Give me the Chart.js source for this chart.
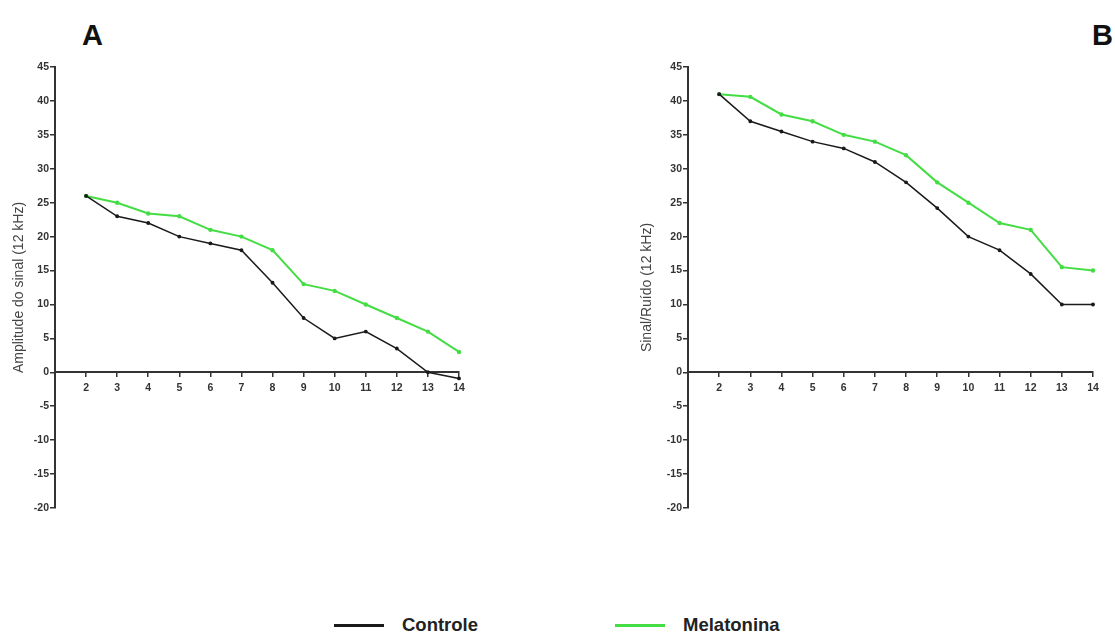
<!DOCTYPE html>
<html>
<head>
<meta charset="utf-8">
<script src="https://cdn.jsdelivr.net/npm/chart.js@4"></script>
<style>
  body { margin: 0; background: #fff; font-family: "Liberation Sans", Arial, sans-serif; }
  #page { position: relative; width: 1115px; height: 633px; overflow: hidden; }
  .panel { position: absolute; top: 0; }
  .letter { position: absolute; top: 21px; font-size: 29px; font-weight: bold; line-height: 29px; color: #111; }
  .leg { position: absolute; top: 611px; height: 28px; display: flex; align-items: center; }
  .leg .ln { width: 50px; height: 3px; margin-right: 18px; }
  .leg span { font-size: 18.5px; font-weight: bold; color: #222; }
</style>
</head>
<body>
<div id="page">
  <div class="letter" style="left:82px">A</div>
  <div class="letter" style="left:1092px">B</div>
  <canvas id="chartA" class="panel" style="left:0px" width="480" height="540"></canvas>
  <canvas id="chartB" class="panel" style="left:633px" width="481" height="540"></canvas>
  <div class="leg" style="left:334px"><div class="ln" style="background:#1a1a1a"></div><span>Controle</span></div>
  <div class="leg" style="left:615px"><div class="ln" style="background:#44dd44"></div><span>Melatonina</span></div>
</div>
<script>
let days = [2, 3, 4, 5, 6, 7, 8, 9, 10, 11, 12, 13, 14];

// A - Amplitude do sinal (12 kHz)
let ampControle = [26, 23, 22, 20, 19, 18, 13.2, 8, 5, 6, 3.5, 0, -0.9];
let ampMelatonina = [26, 25, 23.4, 23, 21, 20, 18, 13, 12, 10, 8, 6, 3];

// B - Sinal/Ruido (12 kHz)
let srControle = [41, 37, 35.5, 34, 33, 31, 28, 24.2, 20, 18, 14.5, 10, 10];
let srMelatonina = [41, 40.6, 38, 37, 35, 34, 32, 28, 25, 22, 21, 15.5, 15];

let xRange = [1, 14];
let yRange = [-20, 45];

let tickFont = { family: 'Liberation Sans', size: 10.5, weight: 'bold' };

function toPoints(values) {
    return days.map((d, i) => ({ x: d, y: values[i] }));
}

function makeChart(id, title, controle, melatonina, titlePad) {
    let ctx = document.getElementById(id).getContext('2d');
    return new Chart(ctx, {
        type: 'line',
        data: {
            datasets: [{
                label: 'Controle',
                data: toPoints(controle),
                borderColor: '#1a1a1a',
                backgroundColor: '#1a1a1a',
                borderWidth: 1.5,
                pointRadius: 1.2,
                clip: false
            }, {
                label: 'Melatonina',
                data: toPoints(melatonina),
                borderColor: '#44dd44',
                backgroundColor: '#33bb33',
                borderWidth: 2,
                pointRadius: 1.2,
                clip: false
            }]
        },
        options: {
            responsive: false,
            animation: false,
            layout: { padding: { top: 67, bottom: 32, left: 0, right: 21 } },
            plugins: { legend: { display: false }, tooltip: { enabled: false } },
            scales: {
                x: {
                    type: 'linear',
                    min: xRange[0],
                    max: xRange[1],
                    position: { y: 0 },
                    grid: { drawOnChartArea: false, tickLength: 4, color: '#333', lineWidth: 1.5 },
                    border: { display: true, color: '#333', width: 2 },
                    ticks: {
                        stepSize: 1, autoSkip: false, maxRotation: 0, padding: 6,
                        color: '#333', font: tickFont,
                        callback: v => v === 1 ? '' : v
                    },
                    afterFit: s => { s.height = 0; }
                },
                y: {
                    min: yRange[0],
                    max: yRange[1],
                    grid: { drawOnChartArea: false, tickLength: 5, color: '#333', lineWidth: 1.5 },
                    border: { display: true, color: '#333', width: 2 },
                    ticks: { stepSize: 5, padding: 1, color: '#333', font: tickFont },
                    title: {
                        display: true, text: title, color: '#444',
                        font: { family: 'Liberation Sans', size: 14 },
                        padding: { top: titlePad, bottom: 0 }
                    },
                    afterFit: s => { s.width = 55; }
                }
            }
        }
    });
}

let chartA = makeChart('chartA', 'Amplitude do sinal (12 kHz)', ampControle, ampMelatonina, 10.5);
let chartB = makeChart('chartB', 'Sinal/Ruído (12 kHz)', srControle, srMelatonina, 5.5);
</script>
</body>
</html>
